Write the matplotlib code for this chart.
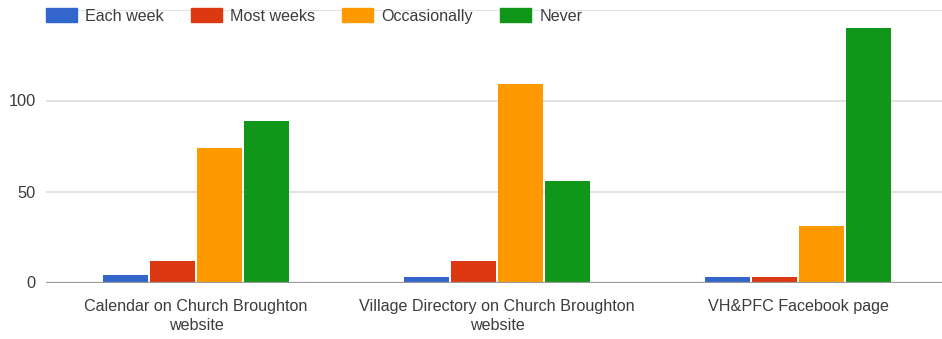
import matplotlib
matplotlib.use('Agg')
import matplotlib.pyplot as plt
from matplotlib.patches import Patch
import numpy as np

plt.rcParams['font.family'] = ['Liberation Sans', 'DejaVu Sans']

categories = ['Calendar on Church Broughton\nwebsite',
              'Village Directory on Church Broughton\nwebsite',
              'VH&PFC Facebook page']
series = ['Each week', 'Most weeks', 'Occasionally', 'Never']
each_week = [4, 3, 3]
most_weeks = [12, 12, 3]
occasionally = [74, 109, 31]
never = [89, 56, 140]
colors = ['#3366cc', '#dc3912', '#ff9900', '#109618']
txt = '#3c3c3c'

W, H = 942, 339
fig = plt.figure(figsize=(W/100, H/100), dpi=100)
# plot area in pixels: x 45.5..948.5, y 9.5..282.5
ax = fig.add_axes([45.5/W, (H-282.5)/H, 903/W, 273/H])

x = np.arange(len(categories))
bw = 0.15
step = 47/301
vals = [each_week, most_weeks, occasionally, never]
for i, (v, c) in enumerate(zip(vals, colors)):
    ax.bar(x + (i-1.5)*step, v, bw, color=c, label=series[i], zorder=3)

ax.set_xlim(-0.5, 2.5)
ax.set_ylim(0, 150)
ax.set_yticks([0, 50, 100, 150])
ax.set_yticklabels(['0', '50', '100', ''])
ax.yaxis.grid(True, color='#dddddd', lw=1.2, zorder=0)
ax.axhline(0, color='#999999', lw=1.6, zorder=4)
for s in ax.spines.values():
    s.set_visible(False)
ax.tick_params(axis='y', length=0, pad=7, labelsize=11.8, labelcolor=txt)
ax.set_xticks(x)
ax.set_xticklabels(categories, fontsize=11.6, color=txt, linespacing=1.35)
ax.tick_params(axis='x', length=0, pad=12)

handles = [Patch(facecolor=c, edgecolor=c) for c in colors]
fig.legend(handles, series, loc='upper left', bbox_to_anchor=(46/W, 1-8/H),
           ncol=4, frameon=False, fontsize=11.6, handlelength=1.93, handleheight=1.0,
           handletextpad=0.5, columnspacing=1.68, borderpad=0, borderaxespad=0,
           labelcolor=txt)

fig.savefig('out.png', dpi=100)
